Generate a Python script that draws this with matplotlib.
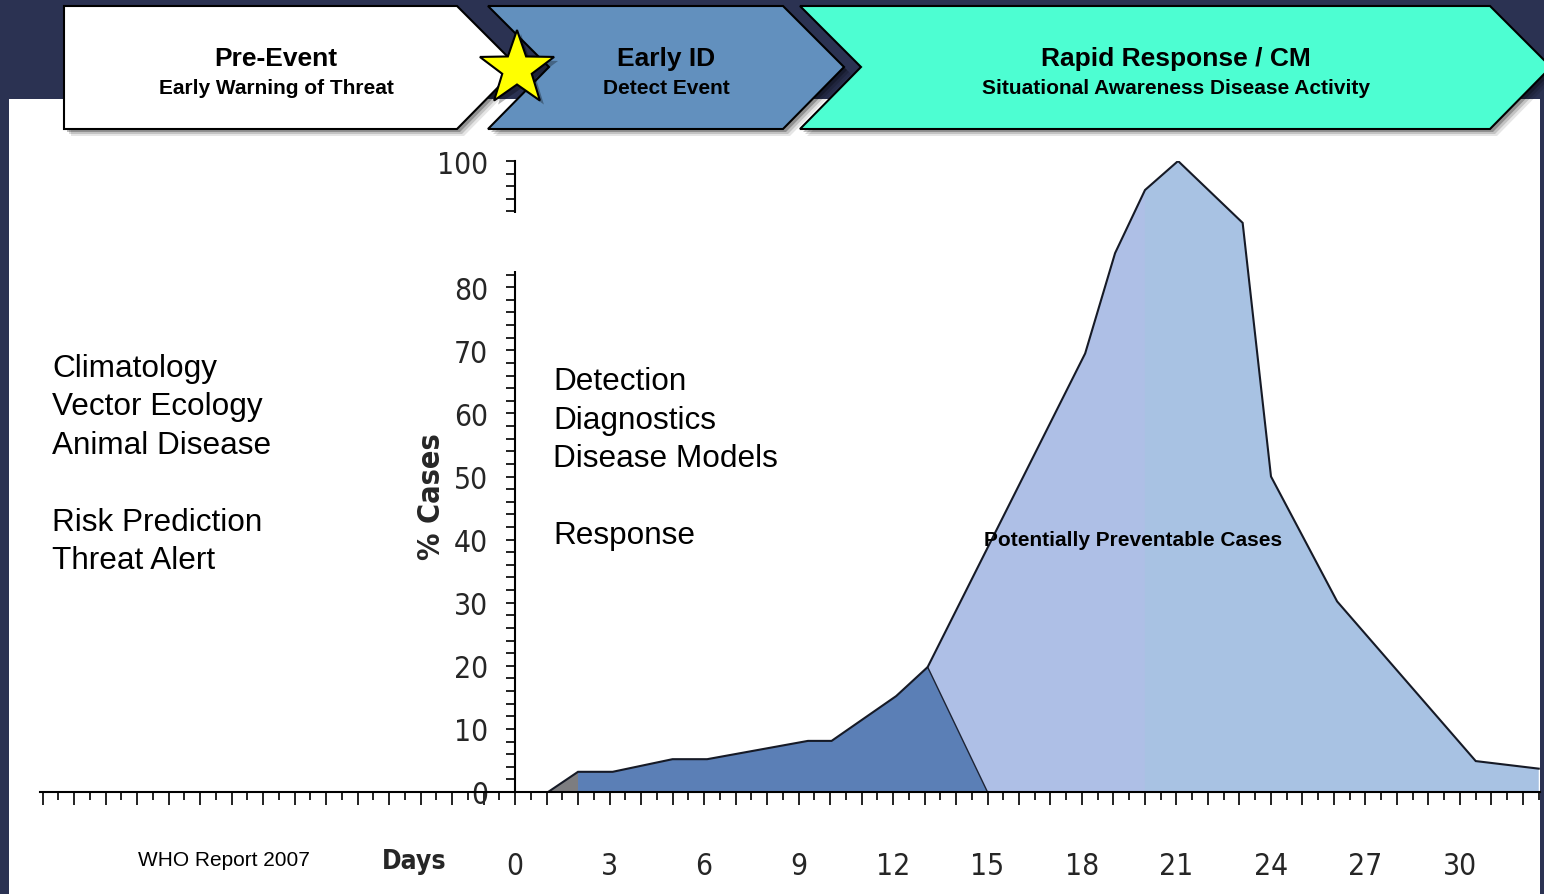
import os
import numpy as np
import matplotlib
matplotlib.use('Agg')
import matplotlib.pyplot as plt
from matplotlib.patches import Polygon, Rectangle
from matplotlib import font_manager
from matplotlib.font_manager import FontProperties

plt.rcParams['font.family'] = ['Liberation Sans', 'DejaVu Sans']

W, H = 1544, 895

# curva epidemica: % de casos por dia
dias = [1.05, 2.0, 3.1, 5.0, 6.1, 9.3, 10.05, 12.1, 13.1, 18.1, 19.05, 20.0,
        21.05, 23.1, 24.0, 26.1, 30.5, 32.5]
casos = [0, 3.2, 3.2, 5.2, 5.2, 8.1, 8.1, 15.2, 19.8, 69.5, 85.4, 95.4,
         100, 90.2, 50, 30.2, 4.9, 3.7]

dia_deteccao = 2.0      # fim do trecho cinza
dia_resposta = 13.1     # topo da divisa escuro/claro
dia_base_divisa = 15.0  # base da divisa
dia_troca_tom = 20.0

rotulos_x = [0, 3, 6, 9, 12, 15, 18, 21, 24, 27, 30]
rotulos_y = [0, 10, 20, 30, 40, 50, 60, 70, 80, 90, 100]

fases = [('Pre-Event', 'Early Warning of Threat'),
         ('Early ID', 'Detect Event'),
         ('Rapid Response / CM', 'Situational Awareness Disease Activity')]
texto_esquerda = ['Climatology', 'Vector Ecology', 'Animal Disease', '',
                  'Risk Prediction', 'Threat Alert']
texto_meio = ['Detection', 'Diagnostics', 'Disease Models', '', 'Response']

# cores
cor_fundo = '#2b3252'
cor_fases = ['#ffffff', '#6290be', '#4dfed2']
cor_cinza = '#7d7d80'
cor_escuro = '#5b7fb6'
cor_claro_a = '#aebfe6'
cor_claro_b = '#a8c2e3'
cor_texto_eixo = '#262626'


def fonte_estreita(negrito=False):
    if negrito:
        alvos = ['LiberationSansNarrow-Bold.', 'DejaVuSansCondensed-Bold.']
    else:
        alvos = ['LiberationSansNarrow-Regular.', 'DejaVuSansCondensed.']
    arquivos = [f.fname for f in font_manager.fontManager.ttflist]
    for alvo in alvos:
        for arq in arquivos:
            if os.path.basename(arq).startswith(alvo):
                return arq
    return None


def fonte(arq, tamanho, negrito=False):
    if arq:
        return FontProperties(fname=arq, size=tamanho)
    return FontProperties(family='Liberation Sans', size=tamanho - 1,
                          weight='bold' if negrito else 'normal')


def trecho(a, b):
    xs = [a] + [d for d in dias if a < d < b] + [b]
    return xs, list(np.interp(xs, dias, casos))


arq_normal = fonte_estreita()
arq_negrito = fonte_estreita(True)
fp_ticks = fonte(arq_normal, 21.5)
fp_dias = fonte(arq_negrito, 19, True)
fp_casos = fonte(arq_negrito, 22, True)

fig = plt.figure(figsize=(W / 100, H / 100), dpi=100)
fig.patch.set_facecolor(cor_fundo)

# ---- fundo (coordenadas em pixels, y para baixo)
bg = fig.add_axes([0, 0, 1, 1], zorder=0)
bg.set_xlim(0, W)
bg.set_ylim(H, 0)
bg.axis('off')
bg.add_patch(Rectangle((0, 0), W, H, facecolor=cor_fundo, edgecolor='none'))
bg.add_patch(Rectangle((9, 100), 1531, 795, facecolor='white', edgecolor='none'))

# ---- grafico
px_esq, px_dir, px_base, px_topo = 40, 1540, 793, 162
ax = fig.add_axes([px_esq / W, (H - px_base) / H, (px_dir - px_esq) / W,
                   (px_base - px_topo) / H], zorder=1)
ax.set_facecolor('none')
ax.set_xlim(-15.08, 32.54)
ax.set_ylim(0, 100)

xs, ys = trecho(dias[0], dia_deteccao)
ax.add_patch(Polygon(list(zip(xs, ys)) + [(dia_deteccao, 0)],
                     facecolor=cor_cinza, edgecolor='none'))

xs, ys = trecho(dia_deteccao, dia_resposta)
ax.add_patch(Polygon(list(zip(xs, ys)) + [(dia_base_divisa, 0), (dia_deteccao, 0)],
                     facecolor=cor_escuro, edgecolor='none'))

xs, ys = trecho(dia_resposta, dia_troca_tom)
ax.add_patch(Polygon(list(zip(xs, ys)) + [(dia_troca_tom, 0), (dia_base_divisa, 0)],
                     facecolor=cor_claro_a, edgecolor='none'))

xs, ys = trecho(dia_troca_tom, dias[-1])
ax.add_patch(Polygon(list(zip(xs, ys)) + [(dias[-1], 0), (dia_troca_tom, 0)],
                     facecolor=cor_claro_b, edgecolor='none'))

y_resposta = np.interp(dia_resposta, dias, casos)
ax.plot([dia_resposta, dia_base_divisa], [y_resposta, 0], color='#1c2233', lw=1.0)
ax.plot(dias, casos, color='#161a26', lw=1.5, solid_joinstyle='miter')

ax.text(14.9, 39.1, 'Potentially Preventable Cases', fontsize=15,
        fontweight='bold', va='baseline', ha='left', color='black')

for lado in ['top', 'right']:
    ax.spines[lado].set_visible(False)
ax.spines['left'].set_position(('data', 0))
ax.spines['left'].set_bounds(0, 100)
ax.spines['left'].set_linewidth(1.5)
ax.spines['bottom'].set_linewidth(1.5)

ticks_x = np.arange(-15, 33)
ax.set_xticks(ticks_x, [str(t) if t in rotulos_x else '' for t in ticks_x])
ax.set_xticks(np.arange(-15, 33, 0.5), minor=True)
ax.set_yticks(rotulos_y, [str(v) for v in rotulos_y])
ax.set_yticks(np.arange(0, 101, 2), minor=True)
ax.tick_params(axis='x', which='major', length=9.5, width=1.3, pad=33,
               colors='#111111')
ax.tick_params(axis='x', which='minor', length=6, width=1.3, colors='#111111')
ax.tick_params(axis='y', which='both', length=6.5, width=1.3, pad=13,
               colors='#111111')
for lbl in ax.get_xticklabels() + ax.get_yticklabels():
    lbl.set_fontproperties(fp_ticks)
    lbl.set_color(cor_texto_eixo)

# ---- camada superior: faixas das fases, estrela, textos
ov = fig.add_axes([0, 0, 1, 1], zorder=3)
ov.set_xlim(0, W)
ov.set_ylim(H, 0)
ov.axis('off')
ov.patch.set_visible(False)

# trecho do eixo y encoberto
ov.add_patch(Rectangle((400, 214), 140, 58, facecolor='white', edgecolor='none'))

formas = [
    [(64, 7), (457, 7), (518, 68), (457, 130), (64, 130)],
    [(488, 7), (783, 7), (844, 68), (783, 130), (488, 130), (549, 68)],
    [(800, 7), (1490, 7), (1551, 68), (1490, 130), (800, 130), (861, 68)],
]
centros = [276, 666, 1176]

for forma, cor, (titulo, sub), cx in zip(formas, cor_fases, fases, centros):
    for d, a in [(7, 0.10), (5, 0.15), (3, 0.25)]:
        ov.add_patch(Polygon([(x + d, y + d) for x, y in forma],
                             facecolor='black', edgecolor='none', alpha=a))
    ov.add_patch(Polygon(forma, facecolor=cor, edgecolor='black', lw=1.5,
                         joinstyle='miter'))
    ov.text(cx, 66, titulo, fontsize=19, fontweight='bold', ha='center',
            va='baseline', color='black')
    ov.text(cx, 93.5, sub, fontsize=15, fontweight='bold', ha='center',
            va='baseline', color='black')

# estrela na passagem Pre-Event -> Early ID
ang = np.deg2rad(-90 + 36 * np.arange(10))
raio = np.where(np.arange(10) % 2 == 0, 39, 15.5)
estrela = list(zip(517 + raio * np.cos(ang), 70 + raio * np.sin(ang)))
ov.add_patch(Polygon([(x + 4, y + 4) for x, y in estrela], facecolor='black',
                     edgecolor='none', alpha=0.3))
ov.add_patch(Polygon(estrela, facecolor='#ffff00', edgecolor='black', lw=1.5))

for i, linha in enumerate(texto_esquerda):
    ov.text(52, 377 + i * 38.4, linha, fontsize=22.7, va='baseline', color='black')
for i, linha in enumerate(texto_meio):
    ov.text(553, 390 + i * 38.5, linha, fontsize=22.7, va='baseline', color='black')

ov.text(224, 866, 'WHO Report 2007', fontsize=15, ha='center', va='baseline',
        color='black')
ov.text(414, 862, 'Days', fontproperties=fp_dias, ha='center', va='center',
        color=cor_texto_eixo)
ov.text(432, 497, '% Cases', fontproperties=fp_casos, ha='center', va='center',
        rotation=90, color=cor_texto_eixo)

fig.savefig('out.png', dpi=100, facecolor=fig.get_facecolor())
plt.close(fig)
